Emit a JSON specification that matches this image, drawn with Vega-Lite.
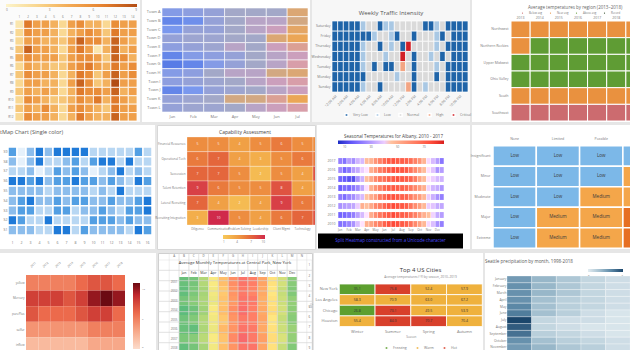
{
"$schema":"https://vega.github.io/schema/vega-lite/v6.json",
"padding":0,
"background":"#e6e6e6",
"spacing":2,
"config":{
 "font":"Open Sans",
 "view":{"stroke":null},
 "axis":{"domain":false,"ticks":false,"grid":false,"labelFontSize":4,"labelColor":"#777","labelPadding":1,"labelFont":"Open Sans","labelOverlap":false},
 "legend":{"labelFontSize":3.5,"labelColor":"#777","labelFont":"Open Sans"},
 "title":{"fontSize":5.5,"color":"#444","font":"Open Sans","fontWeight":"normal","frame":"group"}
},
"datasets":{
"p1":[
{"r":0,"c":0,"v":1},{"r":0,"c":1,"v":7},{"r":0,"c":2,"v":5},{"r":0,"c":3,"v":5},{"r":0,"c":4,"v":4},{"r":0,"c":5,"v":2},{"r":0,"c":6,"v":5},{"r":0,"c":7,"v":6},{"r":0,"c":8,"v":4},{"r":0,"c":9,"v":4},{"r":0,"c":10,"v":2},{"r":0,"c":11,"v":6},{"r":0,"c":12,"v":5},{"r":0,"c":13,"v":5},
{"r":1,"c":0,"v":2},{"r":1,"c":1,"v":6},{"r":1,"c":2,"v":5},{"r":1,"c":3,"v":5},{"r":1,"c":4,"v":4},{"r":1,"c":5,"v":2},{"r":1,"c":6,"v":4},{"r":1,"c":7,"v":5},{"r":1,"c":8,"v":6},{"r":1,"c":9,"v":5},{"r":1,"c":10,"v":3},{"r":1,"c":11,"v":7},{"r":1,"c":12,"v":5},{"r":1,"c":13,"v":5},
{"r":2,"c":0,"v":2},{"r":2,"c":1,"v":5},{"r":2,"c":2,"v":5},{"r":2,"c":3,"v":4},{"r":2,"c":4,"v":4},{"r":2,"c":5,"v":3},{"r":2,"c":6,"v":5},{"r":2,"c":7,"v":8},{"r":2,"c":8,"v":6},{"r":2,"c":9,"v":6},{"r":2,"c":10,"v":4},{"r":2,"c":11,"v":8},{"r":2,"c":12,"v":5},{"r":2,"c":13,"v":4},
{"r":3,"c":0,"v":3},{"r":3,"c":1,"v":8},{"r":3,"c":2,"v":5},{"r":3,"c":3,"v":5},{"r":3,"c":4,"v":4},{"r":3,"c":5,"v":2},{"r":3,"c":6,"v":5},{"r":3,"c":7,"v":7},{"r":3,"c":8,"v":5},{"r":3,"c":9,"v":1},{"r":3,"c":10,"v":4},{"r":3,"c":11,"v":8},{"r":3,"c":12,"v":4},{"r":3,"c":13,"v":5},
{"r":4,"c":0,"v":4},{"r":4,"c":1,"v":6},{"r":4,"c":2,"v":5},{"r":4,"c":3,"v":5},{"r":4,"c":4,"v":5},{"r":4,"c":5,"v":3},{"r":4,"c":6,"v":5},{"r":4,"c":7,"v":6},{"r":4,"c":8,"v":6},{"r":4,"c":9,"v":5},{"r":4,"c":10,"v":3},{"r":4,"c":11,"v":8},{"r":4,"c":12,"v":6},{"r":4,"c":13,"v":4},
{"r":5,"c":0,"v":2},{"r":5,"c":1,"v":5},{"r":5,"c":2,"v":4},{"r":5,"c":3,"v":4},{"r":5,"c":4,"v":3},{"r":5,"c":5,"v":3},{"r":5,"c":6,"v":5},{"r":5,"c":7,"v":6},{"r":5,"c":8,"v":7},{"r":5,"c":9,"v":5},{"r":5,"c":10,"v":4},{"r":5,"c":11,"v":7},{"r":5,"c":12,"v":5},{"r":5,"c":13,"v":6},
{"r":6,"c":0,"v":3},{"r":6,"c":1,"v":6},{"r":6,"c":2,"v":5},{"r":6,"c":3,"v":5},{"r":6,"c":4,"v":4},{"r":6,"c":5,"v":2},{"r":6,"c":6,"v":4},{"r":6,"c":7,"v":7},{"r":6,"c":8,"v":6},{"r":6,"c":9,"v":3},{"r":6,"c":10,"v":5},{"r":6,"c":11,"v":8},{"r":6,"c":12,"v":5},{"r":6,"c":13,"v":6},
{"r":7,"c":0,"v":2},{"r":7,"c":1,"v":5},{"r":7,"c":2,"v":5},{"r":7,"c":3,"v":4},{"r":7,"c":4,"v":4},{"r":7,"c":5,"v":2},{"r":7,"c":6,"v":5},{"r":7,"c":7,"v":8},{"r":7,"c":8,"v":6},{"r":7,"c":9,"v":3},{"r":7,"c":10,"v":4},{"r":7,"c":11,"v":9},{"r":7,"c":12,"v":5},{"r":7,"c":13,"v":5},
{"r":8,"c":0,"v":3},{"r":8,"c":1,"v":5},{"r":8,"c":2,"v":4},{"r":8,"c":3,"v":5},{"r":8,"c":4,"v":4},{"r":8,"c":5,"v":2},{"r":8,"c":6,"v":4},{"r":8,"c":7,"v":7},{"r":8,"c":8,"v":6},{"r":8,"c":9,"v":6},{"r":8,"c":10,"v":5},{"r":8,"c":11,"v":8},{"r":8,"c":12,"v":4},{"r":8,"c":13,"v":5},
{"r":9,"c":0,"v":2},{"r":9,"c":1,"v":6},{"r":9,"c":2,"v":5},{"r":9,"c":3,"v":4},{"r":9,"c":4,"v":3},{"r":9,"c":5,"v":3},{"r":9,"c":6,"v":4},{"r":9,"c":7,"v":6},{"r":9,"c":8,"v":5},{"r":9,"c":9,"v":7},{"r":9,"c":10,"v":4},{"r":9,"c":11,"v":7},{"r":9,"c":12,"v":5},{"r":9,"c":13,"v":4},
{"r":10,"c":0,"v":3},{"r":10,"c":1,"v":5},{"r":10,"c":2,"v":4},{"r":10,"c":3,"v":6},{"r":10,"c":4,"v":4},{"r":10,"c":5,"v":2},{"r":10,"c":6,"v":5},{"r":10,"c":7,"v":6},{"r":10,"c":8,"v":5},{"r":10,"c":9,"v":4},{"r":10,"c":10,"v":3},{"r":10,"c":11,"v":7},{"r":10,"c":12,"v":5},{"r":10,"c":13,"v":5},
{"r":11,"c":0,"v":2},{"r":11,"c":1,"v":6},{"r":11,"c":2,"v":5},{"r":11,"c":3,"v":5},{"r":11,"c":4,"v":4},{"r":11,"c":5,"v":2},{"r":11,"c":6,"v":4},{"r":11,"c":7,"v":7},{"r":11,"c":8,"v":5},{"r":11,"c":9,"v":4},{"r":11,"c":10,"v":4},{"r":11,"c":11,"v":8},{"r":11,"c":12,"v":5},{"r":11,"c":13,"v":5}
],
"p2":[
{"r":0,"c":0,"v":3},{"r":0,"c":1,"v":3.5},{"r":0,"c":2,"v":4},{"r":0,"c":3,"v":5},{"r":0,"c":4,"v":5},{"r":0,"c":5,"v":5},{"r":0,"c":6,"v":8},
{"r":1,"c":0,"v":1.5},{"r":1,"c":1,"v":2},{"r":1,"c":2,"v":4},{"r":1,"c":3,"v":5},{"r":1,"c":4,"v":5.5},{"r":1,"c":5,"v":5.5},{"r":1,"c":6,"v":7.5},
{"r":2,"c":0,"v":2.5},{"r":2,"c":1,"v":4},{"r":2,"c":2,"v":4},{"r":2,"c":3,"v":5},{"r":2,"c":4,"v":5.5},{"r":2,"c":5,"v":6},{"r":2,"c":6,"v":8.5},
{"r":3,"c":0,"v":4},{"r":3,"c":1,"v":4.5},{"r":3,"c":2,"v":4.5},{"r":3,"c":3,"v":5},{"r":3,"c":4,"v":5},{"r":3,"c":5,"v":8},{"r":3,"c":6,"v":9},
{"r":4,"c":0,"v":3.5},{"r":4,"c":1,"v":4},{"r":4,"c":2,"v":4.5},{"r":4,"c":3,"v":5.5},{"r":4,"c":4,"v":5},{"r":4,"c":5,"v":6},{"r":4,"c":6,"v":7},
{"r":5,"c":0,"v":1.5},{"r":5,"c":1,"v":3},{"r":5,"c":2,"v":3.5},{"r":5,"c":3,"v":4},{"r":5,"c":4,"v":5},{"r":5,"c":5,"v":5.5},{"r":5,"c":6,"v":6},
{"r":6,"c":0,"v":1},{"r":6,"c":1,"v":1.5},{"r":6,"c":2,"v":3},{"r":6,"c":3,"v":4},{"r":6,"c":4,"v":5},{"r":6,"c":5,"v":5.5},{"r":6,"c":6,"v":6.5},
{"r":7,"c":0,"v":3},{"r":7,"c":1,"v":3.5},{"r":7,"c":2,"v":5},{"r":7,"c":3,"v":5.5},{"r":7,"c":4,"v":5.5},{"r":7,"c":5,"v":7.5},{"r":7,"c":6,"v":8},
{"r":8,"c":0,"v":3.5},{"r":8,"c":1,"v":4},{"r":8,"c":2,"v":4.5},{"r":8,"c":3,"v":5},{"r":8,"c":4,"v":5.5},{"r":8,"c":5,"v":6},{"r":8,"c":6,"v":6.5},
{"r":9,"c":0,"v":1.5},{"r":9,"c":1,"v":2.5},{"r":9,"c":2,"v":4},{"r":9,"c":3,"v":4.5},{"r":9,"c":4,"v":5},{"r":9,"c":5,"v":5.5},{"r":9,"c":6,"v":6},
{"r":10,"c":0,"v":4},{"r":10,"c":1,"v":4.5},{"r":10,"c":2,"v":5},{"r":10,"c":3,"v":7.5},{"r":10,"c":4,"v":7.5},{"r":10,"c":5,"v":7},{"r":10,"c":6,"v":9},
{"r":11,"c":0,"v":4},{"r":11,"c":1,"v":4.5},{"r":11,"c":2,"v":4.5},{"r":11,"c":3,"v":5},{"r":11,"c":4,"v":5.5},{"r":11,"c":5,"v":6},{"r":11,"c":6,"v":6.5}
],
"p3":[
{"r":0,"c":0,"v":0},{"r":0,"c":1,"v":0},{"r":0,"c":2,"v":0},{"r":0,"c":3,"v":0},{"r":0,"c":4,"v":0},{"r":0,"c":5,"v":1},{"r":0,"c":6,"v":2},{"r":0,"c":7,"v":2},{"r":0,"c":8,"v":0},{"r":0,"c":9,"v":1},{"r":0,"c":10,"v":1},{"r":0,"c":11,"v":2},{"r":0,"c":12,"v":2},{"r":0,"c":13,"v":2},{"r":0,"c":14,"v":2},{"r":0,"c":15,"v":2},{"r":0,"c":16,"v":0},{"r":0,"c":17,"v":0},{"r":0,"c":18,"v":1},{"r":0,"c":19,"v":2},{"r":0,"c":20,"v":0},{"r":0,"c":21,"v":0},{"r":0,"c":22,"v":0},{"r":0,"c":23,"v":0},
{"r":1,"c":0,"v":0},{"r":1,"c":1,"v":0},{"r":1,"c":2,"v":0},{"r":1,"c":3,"v":0},{"r":1,"c":4,"v":0},{"r":1,"c":5,"v":0},{"r":1,"c":6,"v":0},{"r":1,"c":7,"v":1},{"r":1,"c":8,"v":2},{"r":1,"c":9,"v":2},{"r":1,"c":10,"v":1},{"r":1,"c":11,"v":0},{"r":1,"c":12,"v":2},{"r":1,"c":13,"v":2},{"r":1,"c":14,"v":0},{"r":1,"c":15,"v":2},{"r":1,"c":16,"v":2},{"r":1,"c":17,"v":2},{"r":1,"c":18,"v":1},{"r":1,"c":19,"v":0},{"r":1,"c":20,"v":2},{"r":1,"c":21,"v":0},{"r":1,"c":22,"v":0},{"r":1,"c":23,"v":0},
{"r":2,"c":0,"v":0},{"r":2,"c":1,"v":0},{"r":2,"c":2,"v":0},{"r":2,"c":3,"v":0},{"r":2,"c":4,"v":0},{"r":2,"c":5,"v":1},{"r":2,"c":6,"v":2},{"r":2,"c":7,"v":2},{"r":2,"c":8,"v":0},{"r":2,"c":9,"v":2},{"r":2,"c":10,"v":1},{"r":2,"c":11,"v":2},{"r":2,"c":12,"v":0},{"r":2,"c":13,"v":4},{"r":2,"c":14,"v":2},{"r":2,"c":15,"v":2},{"r":2,"c":16,"v":2},{"r":2,"c":17,"v":2},{"r":2,"c":18,"v":1},{"r":2,"c":19,"v":2},{"r":2,"c":20,"v":0},{"r":2,"c":21,"v":0},{"r":2,"c":22,"v":0},{"r":2,"c":23,"v":0},
{"r":3,"c":0,"v":0},{"r":3,"c":1,"v":0},{"r":3,"c":2,"v":0},{"r":3,"c":3,"v":0},{"r":3,"c":4,"v":0},{"r":3,"c":5,"v":1},{"r":3,"c":6,"v":2},{"r":3,"c":7,"v":2},{"r":3,"c":8,"v":2},{"r":3,"c":9,"v":1},{"r":3,"c":10,"v":2},{"r":3,"c":11,"v":2},{"r":3,"c":12,"v":4},{"r":3,"c":13,"v":2},{"r":3,"c":14,"v":0},{"r":3,"c":15,"v":2},{"r":3,"c":16,"v":2},{"r":3,"c":17,"v":1},{"r":3,"c":18,"v":2},{"r":3,"c":19,"v":0},{"r":3,"c":20,"v":2},{"r":3,"c":21,"v":0},{"r":3,"c":22,"v":0},{"r":3,"c":23,"v":0},
{"r":4,"c":0,"v":0},{"r":4,"c":1,"v":0},{"r":4,"c":2,"v":0},{"r":4,"c":3,"v":0},{"r":4,"c":4,"v":0},{"r":4,"c":5,"v":1},{"r":4,"c":6,"v":2},{"r":4,"c":7,"v":0},{"r":4,"c":8,"v":2},{"r":4,"c":9,"v":0},{"r":4,"c":10,"v":0},{"r":4,"c":11,"v":2},{"r":4,"c":12,"v":3},{"r":4,"c":13,"v":2},{"r":4,"c":14,"v":0},{"r":4,"c":15,"v":2},{"r":4,"c":16,"v":2},{"r":4,"c":17,"v":2},{"r":4,"c":18,"v":1},{"r":4,"c":19,"v":2},{"r":4,"c":20,"v":0},{"r":4,"c":21,"v":0},{"r":4,"c":22,"v":0},{"r":4,"c":23,"v":0},
{"r":5,"c":0,"v":0},{"r":5,"c":1,"v":0},{"r":5,"c":2,"v":0},{"r":5,"c":3,"v":0},{"r":5,"c":4,"v":0},{"r":5,"c":5,"v":0},{"r":5,"c":6,"v":2},{"r":5,"c":7,"v":2},{"r":5,"c":8,"v":2},{"r":5,"c":9,"v":2},{"r":5,"c":10,"v":2},{"r":5,"c":11,"v":1},{"r":5,"c":12,"v":2},{"r":5,"c":13,"v":2},{"r":5,"c":14,"v":0},{"r":5,"c":15,"v":2},{"r":5,"c":16,"v":2},{"r":5,"c":17,"v":2},{"r":5,"c":18,"v":0},{"r":5,"c":19,"v":2},{"r":5,"c":20,"v":0},{"r":5,"c":21,"v":0},{"r":5,"c":22,"v":0},{"r":5,"c":23,"v":0},
{"r":6,"c":0,"v":0},{"r":6,"c":1,"v":0},{"r":6,"c":2,"v":0},{"r":6,"c":3,"v":0},{"r":6,"c":4,"v":0},{"r":6,"c":5,"v":1},{"r":6,"c":6,"v":2},{"r":6,"c":7,"v":2},{"r":6,"c":8,"v":0},{"r":6,"c":9,"v":2},{"r":6,"c":10,"v":2},{"r":6,"c":11,"v":2},{"r":6,"c":12,"v":2},{"r":6,"c":13,"v":3},{"r":6,"c":14,"v":0},{"r":6,"c":15,"v":2},{"r":6,"c":16,"v":1},{"r":6,"c":17,"v":2},{"r":6,"c":18,"v":2},{"r":6,"c":19,"v":2},{"r":6,"c":20,"v":0},{"r":6,"c":21,"v":0},{"r":6,"c":22,"v":0},{"r":6,"c":23,"v":0}
],
"p4":[
{"r":0,"c":0,"v":1},{"r":0,"c":1,"v":1},{"r":0,"c":2,"v":1},{"r":0,"c":3,"v":1},{"r":0,"c":4,"v":1},{"r":0,"c":5,"v":1},{"r":0,"c":6,"v":1},
{"r":1,"c":0,"v":1},{"r":1,"c":1,"v":2},{"r":1,"c":2,"v":2},{"r":1,"c":3,"v":2},{"r":1,"c":4,"v":2},{"r":1,"c":5,"v":2},{"r":1,"c":6,"v":2},
{"r":2,"c":0,"v":2},{"r":2,"c":1,"v":2},{"r":2,"c":2,"v":2},{"r":2,"c":3,"v":2},{"r":2,"c":4,"v":2},{"r":2,"c":5,"v":2},{"r":2,"c":6,"v":2},
{"r":3,"c":0,"v":2},{"r":3,"c":1,"v":2},{"r":3,"c":2,"v":2},{"r":3,"c":3,"v":2},{"r":3,"c":4,"v":2},{"r":3,"c":5,"v":2},{"r":3,"c":6,"v":2},
{"r":4,"c":0,"v":1},{"r":4,"c":1,"v":1},{"r":4,"c":2,"v":1},{"r":4,"c":3,"v":1},{"r":4,"c":4,"v":1},{"r":4,"c":5,"v":1},{"r":4,"c":6,"v":1},
{"r":5,"c":0,"v":0},{"r":5,"c":1,"v":0},{"r":5,"c":2,"v":0},{"r":5,"c":3,"v":0},{"r":5,"c":4,"v":0},{"r":5,"c":5,"v":0},{"r":5,"c":6,"v":0}
],
"p5":[
{"r":0,"c":0,"v":3},{"r":0,"c":1,"v":0},{"r":0,"c":2,"v":2},{"r":0,"c":3,"v":4},{"r":0,"c":4,"v":2},{"r":0,"c":5,"v":4},{"r":0,"c":6,"v":4},{"r":0,"c":7,"v":4},{"r":0,"c":8,"v":4},{"r":0,"c":9,"v":1},{"r":0,"c":10,"v":1},{"r":0,"c":11,"v":1},{"r":0,"c":12,"v":1},{"r":0,"c":13,"v":1},{"r":0,"c":14,"v":3},{"r":0,"c":15,"v":1},
{"r":1,"c":0,"v":2},{"r":1,"c":1,"v":0},{"r":1,"c":2,"v":2},{"r":1,"c":3,"v":4},{"r":1,"c":4,"v":1},{"r":1,"c":5,"v":1},{"r":1,"c":6,"v":2},{"r":1,"c":7,"v":3},{"r":1,"c":8,"v":1},{"r":1,"c":9,"v":3},{"r":1,"c":10,"v":4},{"r":1,"c":11,"v":4},{"r":1,"c":12,"v":1},{"r":1,"c":13,"v":4},{"r":1,"c":14,"v":1},{"r":1,"c":15,"v":1},
{"r":2,"c":0,"v":1},{"r":2,"c":1,"v":1},{"r":2,"c":2,"v":2},{"r":2,"c":3,"v":0},{"r":2,"c":4,"v":1},{"r":2,"c":5,"v":3},{"r":2,"c":6,"v":2},{"r":2,"c":7,"v":3},{"r":2,"c":8,"v":2},{"r":2,"c":9,"v":0},{"r":2,"c":10,"v":1},{"r":2,"c":11,"v":2},{"r":2,"c":12,"v":4},{"r":2,"c":13,"v":1},{"r":2,"c":14,"v":2},{"r":2,"c":15,"v":1},
{"r":3,"c":0,"v":4},{"r":3,"c":1,"v":4},{"r":3,"c":2,"v":3},{"r":3,"c":3,"v":4},{"r":3,"c":4,"v":2},{"r":3,"c":5,"v":3},{"r":3,"c":6,"v":3},{"r":3,"c":7,"v":4},{"r":3,"c":8,"v":3},{"r":3,"c":9,"v":3},{"r":3,"c":10,"v":2},{"r":3,"c":11,"v":3},{"r":3,"c":12,"v":2},{"r":3,"c":13,"v":1},{"r":3,"c":14,"v":4},{"r":3,"c":15,"v":3},
{"r":4,"c":0,"v":2},{"r":4,"c":1,"v":2},{"r":4,"c":2,"v":2},{"r":4,"c":3,"v":2},{"r":4,"c":4,"v":1},{"r":4,"c":5,"v":2},{"r":4,"c":6,"v":2},{"r":4,"c":7,"v":2},{"r":4,"c":8,"v":2},{"r":4,"c":9,"v":1},{"r":4,"c":10,"v":2},{"r":4,"c":11,"v":1},{"r":4,"c":12,"v":4},{"r":4,"c":13,"v":1},{"r":4,"c":14,"v":1},{"r":4,"c":15,"v":1},
{"r":5,"c":0,"v":2},{"r":5,"c":1,"v":3},{"r":5,"c":2,"v":4},{"r":5,"c":3,"v":2},{"r":5,"c":4,"v":2},{"r":5,"c":5,"v":3},{"r":5,"c":6,"v":2},{"r":5,"c":7,"v":3},{"r":5,"c":8,"v":3},{"r":5,"c":9,"v":2},{"r":5,"c":10,"v":2},{"r":5,"c":11,"v":3},{"r":5,"c":12,"v":2},{"r":5,"c":13,"v":2},{"r":5,"c":14,"v":3},{"r":5,"c":15,"v":4},
{"r":6,"c":0,"v":2},{"r":6,"c":1,"v":3},{"r":6,"c":2,"v":3},{"r":6,"c":3,"v":1},{"r":6,"c":4,"v":1},{"r":6,"c":5,"v":3},{"r":6,"c":6,"v":3},{"r":6,"c":7,"v":1},{"r":6,"c":8,"v":2},{"r":6,"c":9,"v":2},{"r":6,"c":10,"v":3},{"r":6,"c":11,"v":2},{"r":6,"c":12,"v":1},{"r":6,"c":13,"v":3},{"r":6,"c":14,"v":3},{"r":6,"c":15,"v":4},
{"r":7,"c":0,"v":4},{"r":7,"c":1,"v":3},{"r":7,"c":2,"v":1},{"r":7,"c":3,"v":1},{"r":7,"c":4,"v":4},{"r":7,"c":5,"v":1},{"r":7,"c":6,"v":1},{"r":7,"c":7,"v":1},{"r":7,"c":8,"v":1},{"r":7,"c":9,"v":3},{"r":7,"c":10,"v":3},{"r":7,"c":11,"v":3},{"r":7,"c":12,"v":2},{"r":7,"c":13,"v":3},{"r":7,"c":14,"v":2},{"r":7,"c":15,"v":2},
{"r":8,"c":0,"v":2},{"r":8,"c":1,"v":2},{"r":8,"c":2,"v":2},{"r":8,"c":3,"v":1},{"r":8,"c":4,"v":1},{"r":8,"c":5,"v":4},{"r":8,"c":6,"v":4},{"r":8,"c":7,"v":1},{"r":8,"c":8,"v":3},{"r":8,"c":9,"v":2},{"r":8,"c":10,"v":2},{"r":8,"c":11,"v":2},{"r":8,"c":12,"v":2},{"r":8,"c":13,"v":1},{"r":8,"c":14,"v":4},{"r":8,"c":15,"v":3}
],
"p6":[
{"r":0,"c":0,"v":5},{"r":0,"c":1,"v":5},{"r":0,"c":2,"v":4},{"r":0,"c":3,"v":5},{"r":0,"c":4,"v":6},{"r":0,"c":5,"v":5},{"r":0,"c":6,"v":5},
{"r":1,"c":0,"v":6},{"r":1,"c":1,"v":7},{"r":1,"c":2,"v":4},{"r":1,"c":3,"v":3},{"r":1,"c":4,"v":5},{"r":1,"c":5,"v":6},{"r":1,"c":6,"v":6},
{"r":2,"c":0,"v":7},{"r":2,"c":1,"v":7},{"r":2,"c":2,"v":5},{"r":2,"c":3,"v":2},{"r":2,"c":4,"v":5},{"r":2,"c":5,"v":4},{"r":2,"c":6,"v":8},
{"r":3,"c":0,"v":9},{"r":3,"c":1,"v":6},{"r":3,"c":2,"v":5},{"r":3,"c":3,"v":5},{"r":3,"c":4,"v":8},{"r":3,"c":5,"v":4},{"r":3,"c":6,"v":5},
{"r":4,"c":0,"v":7},{"r":4,"c":1,"v":4},{"r":4,"c":2,"v":2},{"r":4,"c":3,"v":4},{"r":4,"c":4,"v":9},{"r":4,"c":5,"v":6},{"r":4,"c":6,"v":7},
{"r":5,"c":0,"v":3},{"r":5,"c":1,"v":10},{"r":5,"c":2,"v":5},{"r":5,"c":3,"v":4},{"r":5,"c":4,"v":6},{"r":5,"c":5,"v":7},{"r":5,"c":6,"v":8}
],
"p7":[
{"r":0,"c":0,"v":24},{"r":0,"c":1,"v":21},{"r":0,"c":2,"v":30},{"r":0,"c":3,"v":27},{"r":0,"c":4,"v":35},{"r":0,"c":5,"v":36},{"r":0,"c":6,"v":47},{"r":0,"c":7,"v":49},{"r":0,"c":8,"v":57},{"r":0,"c":9,"v":62},{"r":0,"c":10,"v":68},{"r":0,"c":11,"v":72},{"r":0,"c":12,"v":74},{"r":0,"c":13,"v":72},{"r":0,"c":14,"v":71},{"r":0,"c":15,"v":70},{"r":0,"c":16,"v":67},{"r":0,"c":17,"v":62},{"r":0,"c":18,"v":57},{"r":0,"c":19,"v":49},{"r":0,"c":20,"v":42},{"r":0,"c":21,"v":36},{"r":0,"c":22,"v":30},{"r":0,"c":23,"v":22},
{"r":1,"c":0,"v":26},{"r":1,"c":1,"v":18},{"r":1,"c":2,"v":22},{"r":1,"c":3,"v":30},{"r":1,"c":4,"v":33},{"r":1,"c":5,"v":40},{"r":1,"c":6,"v":44},{"r":1,"c":7,"v":50},{"r":1,"c":8,"v":56},{"r":1,"c":9,"v":63},{"r":1,"c":10,"v":67},{"r":1,"c":11,"v":71},{"r":1,"c":12,"v":75},{"r":1,"c":13,"v":74},{"r":1,"c":14,"v":73},{"r":1,"c":15,"v":72},{"r":1,"c":16,"v":66},{"r":1,"c":17,"v":60},{"r":1,"c":18,"v":54},{"r":1,"c":19,"v":47},{"r":1,"c":20,"v":43},{"r":1,"c":21,"v":38},{"r":1,"c":22,"v":28},{"r":1,"c":23,"v":30},
{"r":2,"c":0,"v":18},{"r":2,"c":1,"v":16},{"r":2,"c":2,"v":14},{"r":2,"c":3,"v":13},{"r":2,"c":4,"v":28},{"r":2,"c":5,"v":34},{"r":2,"c":6,"v":46},{"r":2,"c":7,"v":52},{"r":2,"c":8,"v":60},{"r":2,"c":9,"v":65},{"r":2,"c":10,"v":66},{"r":2,"c":11,"v":70},{"r":2,"c":12,"v":72},{"r":2,"c":13,"v":74},{"r":2,"c":14,"v":72},{"r":2,"c":15,"v":71},{"r":2,"c":16,"v":69},{"r":2,"c":17,"v":63},{"r":2,"c":18,"v":53},{"r":2,"c":19,"v":47},{"r":2,"c":20,"v":44},{"r":2,"c":21,"v":40},{"r":2,"c":22,"v":36},{"r":2,"c":23,"v":35},
{"r":3,"c":0,"v":17},{"r":3,"c":1,"v":20},{"r":3,"c":2,"v":19},{"r":3,"c":3,"v":22},{"r":3,"c":4,"v":26},{"r":3,"c":5,"v":32},{"r":3,"c":6,"v":43},{"r":3,"c":7,"v":50},{"r":3,"c":8,"v":57},{"r":3,"c":9,"v":62},{"r":3,"c":10,"v":68},{"r":3,"c":11,"v":71},{"r":3,"c":12,"v":72},{"r":3,"c":13,"v":71},{"r":3,"c":14,"v":70},{"r":3,"c":15,"v":68},{"r":3,"c":16,"v":64},{"r":3,"c":17,"v":60},{"r":3,"c":18,"v":55},{"r":3,"c":19,"v":50},{"r":3,"c":20,"v":41},{"r":3,"c":21,"v":35},{"r":3,"c":22,"v":33},{"r":3,"c":23,"v":29},
{"r":4,"c":0,"v":23},{"r":4,"c":1,"v":20},{"r":4,"c":2,"v":25},{"r":4,"c":3,"v":27},{"r":4,"c":4,"v":33},{"r":4,"c":5,"v":36},{"r":4,"c":6,"v":45},{"r":4,"c":7,"v":51},{"r":4,"c":8,"v":55},{"r":4,"c":9,"v":64},{"r":4,"c":10,"v":68},{"r":4,"c":11,"v":73},{"r":4,"c":12,"v":74},{"r":4,"c":13,"v":72},{"r":4,"c":14,"v":70},{"r":4,"c":15,"v":69},{"r":4,"c":16,"v":63},{"r":4,"c":17,"v":58},{"r":4,"c":18,"v":55},{"r":4,"c":19,"v":48},{"r":4,"c":20,"v":40},{"r":4,"c":21,"v":34},{"r":4,"c":22,"v":28},{"r":4,"c":23,"v":24},
{"r":5,"c":0,"v":28},{"r":5,"c":1,"v":30},{"r":5,"c":2,"v":31},{"r":5,"c":3,"v":32},{"r":5,"c":4,"v":40},{"r":5,"c":5,"v":50},{"r":5,"c":6,"v":46},{"r":5,"c":7,"v":52},{"r":5,"c":8,"v":60},{"r":5,"c":9,"v":63},{"r":5,"c":10,"v":69},{"r":5,"c":11,"v":73},{"r":5,"c":12,"v":76},{"r":5,"c":13,"v":74},{"r":5,"c":14,"v":73},{"r":5,"c":15,"v":71},{"r":5,"c":16,"v":65},{"r":5,"c":17,"v":59},{"r":5,"c":18,"v":54},{"r":5,"c":19,"v":48},{"r":5,"c":20,"v":40},{"r":5,"c":21,"v":38},{"r":5,"c":22,"v":33},{"r":5,"c":23,"v":32},
{"r":6,"c":0,"v":18},{"r":6,"c":1,"v":19},{"r":6,"c":2,"v":21},{"r":6,"c":3,"v":24},{"r":6,"c":4,"v":31},{"r":6,"c":5,"v":36},{"r":6,"c":6,"v":44},{"r":6,"c":7,"v":51},{"r":6,"c":8,"v":59},{"r":6,"c":9,"v":65},{"r":6,"c":10,"v":69},{"r":6,"c":11,"v":72},{"r":6,"c":12,"v":76},{"r":6,"c":13,"v":73},{"r":6,"c":14,"v":71},{"r":6,"c":15,"v":70},{"r":6,"c":16,"v":66},{"r":6,"c":17,"v":62},{"r":6,"c":18,"v":56},{"r":6,"c":19,"v":50},{"r":6,"c":20,"v":46},{"r":6,"c":21,"v":41},{"r":6,"c":22,"v":33},{"r":6,"c":23,"v":30},
{"r":7,"c":0,"v":21},{"r":7,"c":1,"v":22},{"r":7,"c":2,"v":25},{"r":7,"c":3,"v":28},{"r":7,"c":4,"v":37},{"r":7,"c":5,"v":44},{"r":7,"c":6,"v":50},{"r":7,"c":7,"v":53},{"r":7,"c":8,"v":60},{"r":7,"c":9,"v":63},{"r":7,"c":10,"v":70},{"r":7,"c":11,"v":74},{"r":7,"c":12,"v":76},{"r":7,"c":13,"v":75},{"r":7,"c":14,"v":72},{"r":7,"c":15,"v":70},{"r":7,"c":16,"v":66},{"r":7,"c":17,"v":60},{"r":7,"c":18,"v":54},{"r":7,"c":19,"v":48},{"r":7,"c":20,"v":42},{"r":7,"c":21,"v":37},{"r":7,"c":22,"v":28},{"r":7,"c":23,"v":24}
],
"banner":[{"b":"B","t":"Split Heatmap constructed from a Unicode character"}],
"p8":[
{"r":0,"c":0,"v":"Low"},{"r":0,"c":1,"v":"Low"},{"r":0,"c":2,"v":"Low"},{"r":0,"c":3,"v":"Low"},
{"r":1,"c":0,"v":"Low"},{"r":1,"c":1,"v":"Low"},{"r":1,"c":2,"v":"Low"},{"r":1,"c":3,"v":"Medium"},
{"r":2,"c":0,"v":"Low"},{"r":2,"c":1,"v":"Low"},{"r":2,"c":2,"v":"Medium"},{"r":2,"c":3,"v":"Medium"},
{"r":3,"c":0,"v":"Low"},{"r":3,"c":1,"v":"Medium"},{"r":3,"c":2,"v":"Medium"},{"r":3,"c":3,"v":"High"},
{"r":4,"c":0,"v":"Low"},{"r":4,"c":1,"v":"Medium"},{"r":4,"c":2,"v":"Medium"},{"r":4,"c":3,"v":"High"}
],
"p9":[
{"r":0,"c":0,"v":5},{"r":0,"c":1,"v":5},{"r":0,"c":2,"v":5},{"r":0,"c":3,"v":5},{"r":0,"c":4,"v":6},{"r":0,"c":5,"v":7},{"r":0,"c":6,"v":7},{"r":0,"c":7,"v":6},
{"r":1,"c":0,"v":8},{"r":1,"c":1,"v":8},{"r":1,"c":2,"v":8},{"r":1,"c":3,"v":7},{"r":1,"c":4,"v":8},{"r":1,"c":5,"v":10},{"r":1,"c":6,"v":11},{"r":1,"c":7,"v":10},
{"r":2,"c":0,"v":7},{"r":2,"c":1,"v":6},{"r":2,"c":2,"v":6},{"r":2,"c":3,"v":6},{"r":2,"c":4,"v":7},{"r":2,"c":5,"v":8},{"r":2,"c":6,"v":8},{"r":2,"c":7,"v":6},
{"r":3,"c":0,"v":4},{"r":3,"c":1,"v":4},{"r":3,"c":2,"v":4},{"r":3,"c":3,"v":4},{"r":3,"c":4,"v":4},{"r":3,"c":5,"v":5},{"r":3,"c":6,"v":5},{"r":3,"c":7,"v":5},
{"r":4,"c":0,"v":2},{"r":4,"c":1,"v":2},{"r":4,"c":2,"v":2},{"r":4,"c":3,"v":2},{"r":4,"c":4,"v":2},{"r":4,"c":5,"v":3},{"r":4,"c":6,"v":3},{"r":4,"c":7,"v":3}
],
"p10":[
{"r":0,"c":0,"v":31},{"r":0,"c":1,"v":33},{"r":0,"c":2,"v":43},{"r":0,"c":3,"v":54},{"r":0,"c":4,"v":64},{"r":0,"c":5,"v":73},{"r":0,"c":6,"v":78},{"r":0,"c":7,"v":76},{"r":0,"c":8,"v":69},{"r":0,"c":9,"v":57},{"r":0,"c":10,"v":48},{"r":0,"c":11,"v":36},
{"r":1,"c":0,"v":30},{"r":1,"c":1,"v":34},{"r":1,"c":2,"v":41},{"r":1,"c":3,"v":53},{"r":1,"c":4,"v":62},{"r":1,"c":5,"v":72},{"r":1,"c":6,"v":77},{"r":1,"c":7,"v":75},{"r":1,"c":8,"v":68},{"r":1,"c":9,"v":56},{"r":1,"c":10,"v":46},{"r":1,"c":11,"v":35},
{"r":2,"c":0,"v":33},{"r":2,"c":1,"v":36},{"r":2,"c":2,"v":42},{"r":2,"c":3,"v":52},{"r":2,"c":4,"v":63},{"r":2,"c":5,"v":71},{"r":2,"c":6,"v":78},{"r":2,"c":7,"v":77},{"r":2,"c":8,"v":67},{"r":2,"c":9,"v":57},{"r":2,"c":10,"v":47},{"r":2,"c":11,"v":38},
{"r":3,"c":0,"v":29},{"r":3,"c":1,"v":32},{"r":3,"c":2,"v":40},{"r":3,"c":3,"v":54},{"r":3,"c":4,"v":64},{"r":3,"c":5,"v":73},{"r":3,"c":6,"v":79},{"r":3,"c":7,"v":76},{"r":3,"c":8,"v":68},{"r":3,"c":9,"v":58},{"r":3,"c":10,"v":48},{"r":3,"c":11,"v":37},
{"r":4,"c":0,"v":32},{"r":4,"c":1,"v":35},{"r":4,"c":2,"v":43},{"r":4,"c":3,"v":53},{"r":4,"c":4,"v":62},{"r":4,"c":5,"v":72},{"r":4,"c":6,"v":77},{"r":4,"c":7,"v":76},{"r":4,"c":8,"v":69},{"r":4,"c":9,"v":56},{"r":4,"c":10,"v":46},{"r":4,"c":11,"v":36},
{"r":5,"c":0,"v":31},{"r":5,"c":1,"v":30},{"r":5,"c":2,"v":42},{"r":5,"c":3,"v":52},{"r":5,"c":4,"v":65},{"r":5,"c":5,"v":72},{"r":5,"c":6,"v":78},{"r":5,"c":7,"v":77},{"r":5,"c":8,"v":68},{"r":5,"c":9,"v":57},{"r":5,"c":10,"v":47},{"r":5,"c":11,"v":39},
{"r":6,"c":0,"v":34},{"r":6,"c":1,"v":36},{"r":6,"c":2,"v":44},{"r":6,"c":3,"v":54},{"r":6,"c":4,"v":63},{"r":6,"c":5,"v":74},{"r":6,"c":6,"v":80},{"r":6,"c":7,"v":77},{"r":6,"c":8,"v":70},{"r":6,"c":9,"v":58},{"r":6,"c":10,"v":49},{"r":6,"c":11,"v":38},
{"r":7,"c":0,"v":30},{"r":7,"c":1,"v":33},{"r":7,"c":2,"v":41},{"r":7,"c":3,"v":53},{"r":7,"c":4,"v":64},{"r":7,"c":5,"v":72},{"r":7,"c":6,"v":78},{"r":7,"c":7,"v":78},{"r":7,"c":8,"v":69},{"r":7,"c":9,"v":57},{"r":7,"c":10,"v":46},{"r":7,"c":11,"v":35}
],
"p10cols":[{"L":"A"},{"L":"B"},{"L":"C"},{"L":"D"},{"L":"E"},{"L":"F"},{"L":"G"},{"L":"H"},{"L":"I"},{"L":"J"},{"L":"K"},{"L":"L"},{"L":"M"},{"L":"N"}],
"p10rows":[{"n":1},{"n":2},{"n":3},{"n":4},{"n":5},{"n":6},{"n":7},{"n":8},{"n":9}],
"p11":[
{"r":0,"c":0,"k":"Freezing","t":"35.1"},{"r":0,"c":1,"k":"Hot","t":"75.8"},{"r":0,"c":2,"k":"Warm","t":"52.4"},{"r":0,"c":3,"k":"Warm","t":"57.9"},
{"r":1,"c":0,"k":"Warm","t":"58.3"},{"r":1,"c":1,"k":"Warm","t":"70.9"},{"r":1,"c":2,"k":"Warm","t":"63.0"},{"r":1,"c":3,"k":"Warm","t":"67.2"},
{"r":2,"c":0,"k":"Freezing","t":"26.8"},{"r":2,"c":1,"k":"Hot","t":"73.1"},{"r":2,"c":2,"k":"Warm","t":"49.5"},{"r":2,"c":3,"k":"Warm","t":"53.9"},
{"r":3,"c":0,"k":"Warm","t":"55.4"},{"r":3,"c":1,"k":"Hot","t":"84.0"},{"r":3,"c":2,"k":"Hot","t":"70.7"},{"r":3,"c":3,"k":"Warm","t":"70.4"}
],
"p12":[
{"r":0,"c":0,"v":5},{"r":0,"c":1,"v":3.5},{"r":0,"c":2,"v":2.5},{"r":0,"c":3,"v":1.5},{"r":0,"c":4,"v":1},{"r":0,"c":5,"v":0.5},
{"r":1,"c":0,"v":5.5},{"r":1,"c":1,"v":3.5},{"r":1,"c":2,"v":2.5},{"r":1,"c":3,"v":1.5},{"r":1,"c":4,"v":1},{"r":1,"c":5,"v":0.5},
{"r":2,"c":0,"v":5.5},{"r":2,"c":1,"v":3.5},{"r":2,"c":2,"v":2.5},{"r":2,"c":3,"v":1.5},{"r":2,"c":4,"v":1},{"r":2,"c":5,"v":0.5},
{"r":3,"c":0,"v":5.5},{"r":3,"c":1,"v":3},{"r":3,"c":2,"v":2},{"r":3,"c":3,"v":1.5},{"r":3,"c":4,"v":1},{"r":3,"c":5,"v":0.5},
{"r":4,"c":0,"v":6},{"r":4,"c":1,"v":3},{"r":4,"c":2,"v":2},{"r":4,"c":3,"v":1.5},{"r":4,"c":4,"v":1},{"r":4,"c":5,"v":0.5},
{"r":5,"c":0,"v":6.5},{"r":5,"c":1,"v":3},{"r":5,"c":2,"v":2},{"r":5,"c":3,"v":1},{"r":5,"c":4,"v":0.5},{"r":5,"c":5,"v":0},
{"r":6,"c":0,"v":9},{"r":6,"c":1,"v":1.5},{"r":6,"c":2,"v":1},{"r":6,"c":3,"v":1},{"r":6,"c":4,"v":0.5},{"r":6,"c":5,"v":0},
{"r":7,"c":0,"v":8},{"r":7,"c":1,"v":1.5},{"r":7,"c":2,"v":1},{"r":7,"c":3,"v":0.5},{"r":7,"c":4,"v":0.5},{"r":7,"c":5,"v":0},
{"r":8,"c":0,"v":7},{"r":8,"c":1,"v":2},{"r":8,"c":2,"v":1.5},{"r":8,"c":3,"v":1},{"r":8,"c":4,"v":0.5},{"r":8,"c":5,"v":0},
{"r":9,"c":0,"v":5.5},{"r":9,"c":1,"v":3},{"r":9,"c":2,"v":2},{"r":9,"c":3,"v":1.5},{"r":9,"c":4,"v":1},{"r":9,"c":5,"v":0.5},
{"r":10,"c":0,"v":5},{"r":10,"c":1,"v":3.5},{"r":10,"c":2,"v":2.5},{"r":10,"c":3,"v":2},{"r":10,"c":4,"v":1},{"r":10,"c":5,"v":0.5},
{"r":11,"c":0,"v":4.5},{"r":11,"c":1,"v":3.5},{"r":11,"c":2,"v":2.5},{"r":11,"c":3,"v":1.5},{"r":11,"c":4,"v":1},{"r":11,"c":5,"v":0.5}
]
},
"vconcat":[
{"hconcat":[
 {"width":140,"height":122,"view":{"fill":"#fbfbfb"},"data":{"name":"p1"},
  "mark":{"type":"rect","stroke":"#ffffff","strokeWidth":0.8,"clip":true},
  "encoding":{
   "x":{"field":"c","type":"ordinal","title":null,"scale":{"range":[15,137]},"axis":{"orient":"top","offset":-19,"labelAngle":0,"labelFontSize":3,"labelExpr":"datum.value+1"}},
   "y":{"field":"r","type":"ordinal","title":null,"scale":{"range":[20,121]},"axis":{"offset":-14,"labelFontSize":3,"labelExpr":"'R'+(datum.value+1)"}},
   "color":{"field":"v","type":"quantitative","title":null,"scale":{"domain":[0,2.25,4.5,6.75,9],"range":["#fdf4cc","#f9d48c","#f2a752","#e4802e","#b24c14"]},"legend":{"orient":"none","direction":"horizontal","legendX":6,"legendY":4,"gradientLength":131,"gradientThickness":3,"labelFontSize":3,"values":[0,3,6,9]}}
  }},
 {"width":168,"height":122,"view":{"fill":"#ffffff"},"data":{"name":"p2"},
  "mark":{"type":"rect","stroke":"#ffffff","strokeWidth":0.6,"clip":true},
  "encoding":{
   "x":{"field":"c","type":"ordinal","title":null,"scale":{"range":[20,166]},"axis":{"offset":-9,"labelAngle":0,"labelFontSize":4,"labelExpr":"['Jan','Feb','Mar','Apr','May','Jun','Jul'][datum.value]"}},
   "y":{"field":"r","type":"ordinal","title":null,"scale":{"range":[8,112]},"axis":{"offset":-19,"labelFontSize":4,"labelExpr":"'Town '+['A','B','C','D','E','F','G','H','I','J','K','L'][datum.value]"}},
   "color":{"field":"v","type":"quantitative","legend":null,"scale":{"domain":[0,2.5,5,7.5,10],"range":["#3f6ae0","#7a98ee","#a3a8c8","#d2a882","#f8a52f"]}}
  }},
 {"width":158,"height":122,"view":{"fill":"#f7f7f7"},"data":{"name":"p3"},
  "title":{"text":"Weekly Traffic Intensity","offset":-16,"fontSize":6,"color":"#555"},
  "mark":{"type":"rect","stroke":"#ffffff","strokeWidth":0.7,"clip":true},
  "encoding":{
   "x":{"field":"c","type":"ordinal","title":null,"scale":{"range":[20,156]},"axis":{"offset":-29,"labelAngle":-45,"labelFontSize":3.5,"values":[0,2,4,6,8,10,12,14,16,18,20,22],"labelExpr":"(datum.value%12==0?12:datum.value%12)+':00 '+(datum.value<12?'AM':'PM')"}},
   "y":{"field":"r","type":"ordinal","title":null,"scale":{"range":[21,92]},"axis":{"offset":-19,"labelFontSize":3.5,"labelExpr":"['Saturday','Friday','Thursday','Wednesday','Tuesday','Monday','Sunday'][datum.value]"}},
   "color":{"field":"v","type":"ordinal","title":null,"scale":{"domain":[0,1,2,3,4],"range":["#1f64a8","#a9c8e4","#dadada","#f3a583","#d21f26"]},"legend":{"orient":"none","direction":"horizontal","legendX":32,"legendY":112,"symbolType":"square","symbolSize":10,"labelFontSize":3.5,"columnPadding":4,"labelExpr":"['Very Low','Low','Normal','High','Critical'][datum.value]"}}
  }},
 {"width":158,"height":122,"view":{"fill":"#ffffff"},"data":{"name":"p4"},
  "title":{"text":"Average temperatures by region (2013–2018)","offset":-9,"fontSize":4.5,"anchor":"start","dx":56,"color":"#666"},
  "mark":{"type":"rect","stroke":"#ffffff","strokeWidth":1,"clip":true},
  "encoding":{
   "x":{"field":"c","type":"ordinal","title":null,"scale":{"range":[39,173]},"axis":{"orient":"top","offset":-20,"labelAngle":0,"labelFontSize":3.5,"values":[0,1,2,3,4,5],"labelExpr":"2013+datum.value"}},
   "y":{"field":"r","type":"ordinal","title":null,"scale":{"range":[21,121]},"axis":{"offset":-37,"labelFontSize":3.5,"labelExpr":"['Northwest','Northern Rockies','Upper Midwest','Ohio Valley','South','Southeast'][datum.value]"}},
   "color":{"field":"v","type":"ordinal","title":null,"scale":{"domain":[0,1,2,3],"range":["#cc6b6f","#e9913f","#5f9c34","#2e4a2a"]},"legend":{"orient":"none","direction":"horizontal","legendX":48,"legendY":10.5,"symbolType":"circle","symbolSize":8,"labelFontSize":2.8,"columnPadding":3,"labelExpr":"['Below avg','Near avg','Above avg','Record'][datum.value]"}}
  }}
 ],"spacing":2,"bounds":"flush"},
{"hconcat":[
 {"width":155,"height":124,"view":{"fill":"#ffffff"},"data":{"name":"p5"},
  "title":{"text":"tMap Chart (Single color)","offset":-10,"fontSize":5.5,"anchor":"start","color":"#555"},
  "mark":{"type":"rect","stroke":"#ffffff","strokeWidth":1.5,"clip":true},
  "encoding":{
   "x":{"field":"c","type":"ordinal","title":null,"scale":{"range":[8,152]},"axis":{"offset":-10,"labelAngle":0,"labelFontSize":3.5,"labelExpr":"datum.value+1"}},
   "y":{"field":"r","type":"ordinal","title":null,"scale":{"range":[22,110]},"axis":{"offset":-8,"labelFontSize":3.5,"labelExpr":"'S'+(9-datum.value)"}},
   "color":{"field":"v","type":"quantitative","legend":null,"scale":{"domain":[0,1,2,3,4],"range":["#e6f1fb","#b8d7f3","#8cbdec","#539fe3","#1f7ad8"]}}
  }},
 {"width":158,"height":124,"view":{"fill":"#ffffff","stroke":"#d8d8d8"},"data":{"name":"p6"},
  "title":{"text":"Capability Assessment","offset":-10,"fontSize":5,"dx":9,"color":"#444"},
  "encoding":{
   "x":{"field":"c","type":"ordinal","title":null,"scale":{"range":[30,177]},"axis":{"offset":-22.5,"labelAngle":0,"labelFontSize":3,"values":[0,1,2,3,4,5],"labelExpr":"['Diligence','Communication','Problem Solving','Leadership','Client Mgmt','Technology'][datum.value]"}},
   "y":{"field":"r","type":"ordinal","title":null,"scale":{"range":[12,100]},"axis":{"offset":-29,"labelFontSize":3,"labelExpr":"['Financial Resources','Operational Tech','Succession','Talent Retention','Lateral Recruiting','Recruiting Integration'][datum.value]"}}
  },
  "layer":[
   {"mark":{"type":"rect","stroke":"#ffffff","strokeWidth":0.3,"clip":true},
    "encoding":{"color":{"field":"v","type":"quantitative","title":null,"scale":{"domain":[1,4,7,10],"range":["#f7c95a","#f0a045","#e4663c","#d02a4b"]},"legend":{"orient":"none","direction":"horizontal","legendX":66,"legendY":110,"gradientLength":42,"gradientThickness":4,"labelFontSize":3,"values":[1,4,7,10]}}}},
   {"transform":[{"filter":"datum.c < 6"}],"mark":{"type":"text","fontSize":3.5,"color":"#ffffff","opacity":0.85,"clip":true},
    "encoding":{"text":{"field":"v"}}}
  ]},
 {"width":153,"height":124,"view":{"fill":"#ffffff"},
  "title":{"text":"Seasonal Temperatures for Albany, 2010 - 2017","offset":-13.5,"fontSize":4.5,"color":"#444"},
  "layer":[
   {"data":{"name":"p7"},"mark":{"type":"rect","clip":true},
    "encoding":{
     "x":{"field":"c","type":"ordinal","title":null,"scale":{"range":[21,127],"paddingInner":0.12},"axis":{"offset":-22,"labelAngle":0,"labelFontSize":3,"values":[0,2,4,6,8,10,12,14,16,18,20,22],"labelExpr":"['Jan','Feb','Mar','Apr','May','Jun','Jul','Aug','Sep','Oct','Nov','Dec'][datum.value/2]"}},
     "y":{"field":"r","type":"ordinal","title":null,"scale":{"range":[31.5,103.5],"paddingInner":0.35},"axis":{"offset":-19,"labelFontSize":3.5,"labelExpr":"2017-datum.value"}},
     "color":{"field":"v","type":"quantitative","title":null,"scale":{"domain":[5,45,85],"range":["#1a2cc4","#ffffff","#d81e1e"]},"legend":{"orient":"none","direction":"horizontal","legendX":21,"legendY":15.5,"gradientLength":106,"gradientThickness":3.5,"labelFontSize":3,"values":[10,30,50,70]}}
    }},
   {"data":{"name":"banner"},"mark":{"type":"rect","color":"#000000"},
    "encoding":{
     "x":{"field":"b","type":"nominal","title":null,"scale":{"range":[1,146],"paddingInner":0,"paddingOuter":0},"axis":null},
     "y":{"field":"b","type":"nominal","title":null,"scale":{"range":[108.5,123.5],"paddingInner":0,"paddingOuter":0},"axis":null}
    }},
   {"data":{"name":"banner"},"mark":{"type":"text","fontSize":4.5,"color":"#4a4aff"},
    "encoding":{
     "x":{"field":"b","type":"nominal","title":null,"scale":{"range":[1,146],"paddingInner":0,"paddingOuter":0},"axis":null},
     "y":{"field":"b","type":"nominal","title":null,"scale":{"range":[108.5,123.5],"paddingInner":0,"paddingOuter":0},"axis":null},
     "text":{"field":"t"}
    }}
  ],
  "resolve":{"scale":{"x":"independent","y":"independent"}}},
 {"width":158,"height":124,"view":{"fill":"#ffffff"},"data":{"name":"p8"},
  "encoding":{
   "x":{"field":"c","type":"ordinal","title":null,"scale":{"range":[21,194.2]},"axis":{"orient":"top","offset":-16,"labelAngle":0,"labelFontSize":3.5,"values":[0,1,2],"labelExpr":"['None','Limited','Possible','Likely'][datum.value]"}},
   "y":{"field":"r","type":"ordinal","title":null,"scale":{"range":[20.7,123.2]},"axis":{"offset":-19,"labelFontSize":3.5,"labelExpr":"['Insignificant','Minor','Moderate','Major','Extreme'][datum.value]"}}
  },
  "layer":[
   {"mark":{"type":"rect","stroke":"#ffffff","strokeWidth":1.5,"clip":true},
    "encoding":{"color":{"field":"v","type":"nominal","legend":null,"scale":{"domain":["Low","Medium","High"],"range":["#7cb8e8","#f4a64a","#e66f23"]}}}},
   {"transform":[{"filter":"datum.c < 3"}],"mark":{"type":"text","fontSize":4.5,"color":"#3a3a3a","clip":true},
    "encoding":{"text":{"field":"v"}}}
  ]}
 ],"spacing":2,"bounds":"flush"},
{"hconcat":[
 {"width":156,"height":100,"view":{"fill":"#ffffff"},"data":{"name":"p9"},
  "mark":{"type":"rect","clip":true},
  "encoding":{
   "x":{"field":"c","type":"ordinal","title":null,"scale":{"range":[26,125]},"axis":{"orient":"top","offset":-16,"labelAngle":-45,"labelFontSize":3,"labelExpr":"2011+datum.value"}},
   "y":{"field":"r","type":"ordinal","title":null,"scale":{"range":[22,100]},"axis":{"offset":-25,"labelFontSize":3,"labelExpr":"['yellow','Mercury','purePlus','sulfur','inflow'][datum.value]"}},
   "color":{"field":"v","type":"quantitative","title":null,"scale":{"domain":[0,3,6,9,11],"range":["#fcdccc","#f7a889","#ec6a4c","#c1272d","#6b0a12"]},"legend":{"orient":"none","direction":"vertical","legendX":133,"legendY":30,"gradientLength":66,"gradientThickness":7,"labelFontSize":2.5}}
  }},
 {"width":154,"height":100,"view":{"fill":"#ffffff","stroke":"#cfcfcf"},
  "title":{"text":"Average Monthly Temperatures at Central Park, New York","offset":-12,"fontSize":4.2,"color":"#333"},
  "layer":[
   {"data":{"name":"p10"},"mark":{"type":"rect","clip":true},
    "encoding":{
     "x":{"field":"c","type":"ordinal","title":null,"scale":{"range":[21,139]},"axis":{"orient":"top","offset":-22,"labelAngle":0,"labelFontSize":3.5,"labelColor":"#333","labelExpr":"['Jan','Feb','Mar','Apr','May','Jun','Jul','Aug','Sep','Oct','Nov','Dec'][datum.value]"}},
     "y":{"field":"r","type":"ordinal","title":null,"scale":{"range":[24,100]},"axis":{"offset":-20,"labelFontSize":3,"labelExpr":"2001+datum.value"}},
     "color":{"field":"v","type":"quantitative","legend":null,"scale":{"domain":[30,55,80],"range":["#63be7b","#ffeb84","#f8696b"]}}
    }},
   {"data":{"name":"p10cols"},"mark":{"type":"rect","fillOpacity":0,"stroke":"#d6d6d6","strokeWidth":0.4,"clip":true},
    "encoding":{
     "x":{"field":"L","type":"nominal","sort":null,"title":null,"scale":{"range":[11.2,148.8],"paddingInner":0,"paddingOuter":0},"axis":{"orient":"top","offset":-5,"labelAngle":0,"labelFontSize":3,"labelColor":"#666"}}
    }},
   {"data":{"name":"p10rows"},"mark":{"type":"rect","fillOpacity":0,"stroke":"#d6d6d6","strokeWidth":0.4,"clip":true},
    "encoding":{
     "y":{"field":"n","type":"ordinal","title":null,"scale":{"range":[7,100],"paddingInner":0,"paddingOuter":0},"axis":{"offset":-5,"labelFontSize":3,"labelColor":"#666"}}
    }}
  ],
  "resolve":{"scale":{"x":"independent","y":"independent"},"axis":{"x":"independent","y":"independent"}}},
 {"width":169,"height":100,"view":{"fill":"#ffffff"},"data":{"name":"p11"},
  "title":{"text":"Top 4 US Cities","subtitle":"Average temperatures (°F) by season, 2010–2019","offset":-25,"fontSize":6,"subtitleFontSize":3.2,"subtitleColor":"#888","subtitlePadding":1.5,"dx":22,"color":"#333"},
  "encoding":{
   "x":{"field":"c","type":"ordinal","title":"Season","scale":{"range":[25.3,168.3]},"axis":{"offset":-24.5,"labelAngle":0,"labelFontSize":4,"titleFontSize":3,"titleColor":"#888","titlePadding":2,"titleFontWeight":"normal","labelExpr":"['Winter','Summer','Spring','Autumn'][datum.value]"}},
   "y":{"field":"r","type":"ordinal","title":"City","scale":{"range":[31,73.5]},"axis":{"offset":-24,"labelFontSize":4,"titleFontSize":3,"titleColor":"#888","titlePadding":2,"titleFontWeight":"normal","labelExpr":"['New York','Los Angeles','Chicago','Houston'][datum.value]"}}
  },
  "layer":[
   {"mark":{"type":"rect","stroke":"#ffffff","strokeWidth":0.8,"clip":true},
    "encoding":{"color":{"field":"k","type":"nominal","title":null,"scale":{"domain":["Freezing","Warm","Hot"],"range":["#5d9f2f","#efb13d","#d8402b"]},"legend":{"orient":"none","direction":"horizontal","legendX":70,"legendY":92,"symbolType":"square","symbolSize":10,"labelFontSize":3.5,"columnPadding":5}}}},
   {"mark":{"type":"text","fontSize":3.5,"color":"#333333","clip":true},
    "encoding":{"text":{"field":"t"}}}
  ]},
 {"width":145,"height":100,"view":{"fill":"#ffffff"},"data":{"name":"p12"},
  "title":{"text":"Seattle precipitation by month, 1998-2018","offset":-10,"fontSize":4.5,"anchor":"start","color":"#555"},
  "mark":{"type":"rect","stroke":"#ffffff","strokeWidth":0.3,"clip":true},
  "encoding":{
   "x":{"field":"c","type":"ordinal","title":null,"scale":{"range":[22,170]},"axis":null},
   "y":{"field":"r","type":"ordinal","title":null,"scale":{"range":[23,104.6]},"axis":{"offset":-22,"labelFontSize":3.3,"values":[0,1,2,3,4,5,6,7,8,9,10],"labelExpr":"['January','February','March','April','May','June','July','August','September','October','November','December'][datum.value]"}},
   "color":{"field":"v","type":"quantitative","title":null,"scale":{"domain":[0,3,6,9],"range":["#e3ecf1","#a4c0d0","#5b88a6","#1b466b"]},"legend":{"orient":"none","direction":"horizontal","legendX":103,"legendY":16,"gradientLength":35,"gradientThickness":3,"labelFontSize":2.5,"values":[0,9]}}
  }}
 ],"spacing":2,"bounds":"flush"}
]
}
